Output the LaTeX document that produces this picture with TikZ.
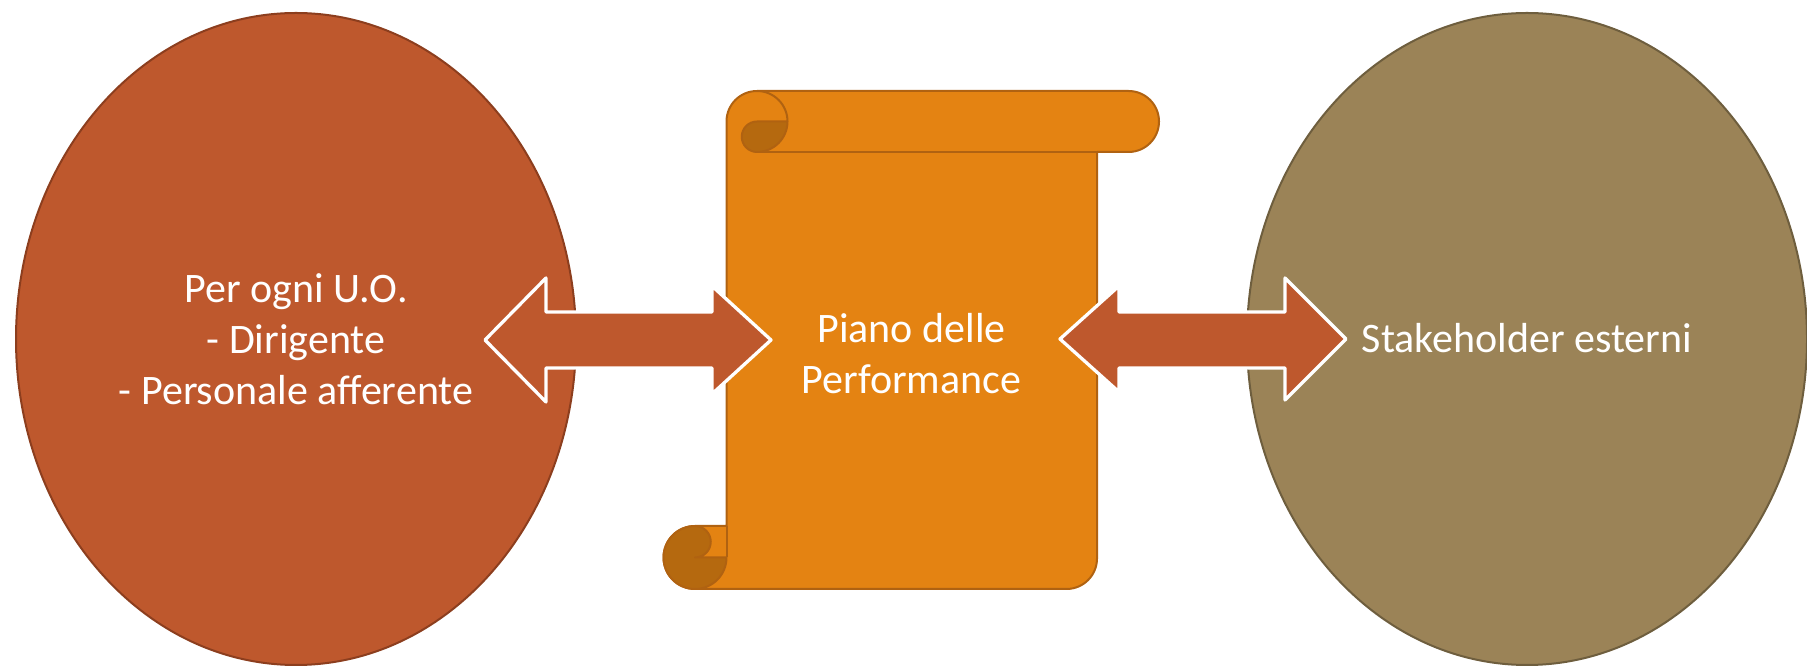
\documentclass[tikz,border=0pt]{standalone}
\usepackage{fontspec}
\setmainfont{Carlito}
\usetikzlibrary{shapes.geometric}

\definecolor{rustfill}{HTML}{BE582D}
\definecolor{rustline}{HTML}{8C3E1E}
\definecolor{sandfill}{HTML}{9B8357}
\definecolor{sandline}{HTML}{6E5E3E}
\definecolor{scrollfill}{HTML}{E48312}
\definecolor{scrollline}{HTML}{B06211}
\definecolor{curlfill}{HTML}{B5690F}

\tikzset{
	blob/.style={ellipse, minimum width=560pt, minimum height=652pt, line width=2pt,
		text=white, align=center, font=\fontsize{42}{51}\selectfont},
	scroll/.style={fill=scrollfill, draw=scrollline, line width=2pt, line join=round},
	curl/.style={fill=curlfill, draw=scrollline, line width=2pt, line join=round},
	barrow/.style={fill=rustfill, draw=white, line width=3.3pt, line join=round},
}

\begin{document}
\begin{tikzpicture}[x=1pt, y=1pt]
	\useasboundingbox (0,0) rectangle (1807,666);

	\node [blob, fill=rustfill, draw=rustline] (uo) at (296,327)
	{Per ogni U.O.\\- Dirigente\\- Personale afferente};
	\node [blob, fill=sandfill, draw=sandline] (stake) at (1527,327) {};
	\node [text=white, font=\fontsize{42}{51}\selectfont, anchor=base] (stakelbl)
	at (1527,313) {Stakeholder esterni};

	% scroll body
	\draw [scroll] (726.5,544.5) arc (180:90:30.5) -- (1128.5,575) arc (90:-90:30.5)
		-- (1097,514) -- (1097,107.5) arc (0:-90:30.5) -- (695,77)
		arc (-90:-270:31.5) -- (726.5,140) -- cycle;
	% top curl
	\draw [curl] (757,544.5) -- (787.5,544.5) arc (0:-90:30.5) arc (-90:-270:15.25) -- cycle;
	\draw [scroll, fill=none] (757,575) arc (90:0:30.5);
	\draw [scroll] (757,514) -- (1097,514);
	% bottom curl
	\draw [curl] (695,140) arc (90:360:31.5) -- (695,108.5) arc (-90:90:15.75) -- cycle;
	\draw [scroll] (726.5,140) -- (726.5,108.5);

	\node [text=white, align=center, font=\fontsize{42}{51}\selectfont] (plan) at (911.5,312)
	{Piano delle\\Performance};

	% double arrows
	\draw [barrow] (485,326) -- (546,388) -- (546,354) -- (712,354) -- (712,380)
		-- (771,326) -- (712,272) -- (712,298) -- (546,298) -- (546,264) -- cycle;
	\draw [barrow] (1060,327) -- (1119,380) -- (1119,354) -- (1285,354) -- (1285,388)
		-- (1346,327) -- (1285,266) -- (1285,298) -- (1119,298) -- (1119,274) -- cycle;
\end{tikzpicture}
\end{document}
